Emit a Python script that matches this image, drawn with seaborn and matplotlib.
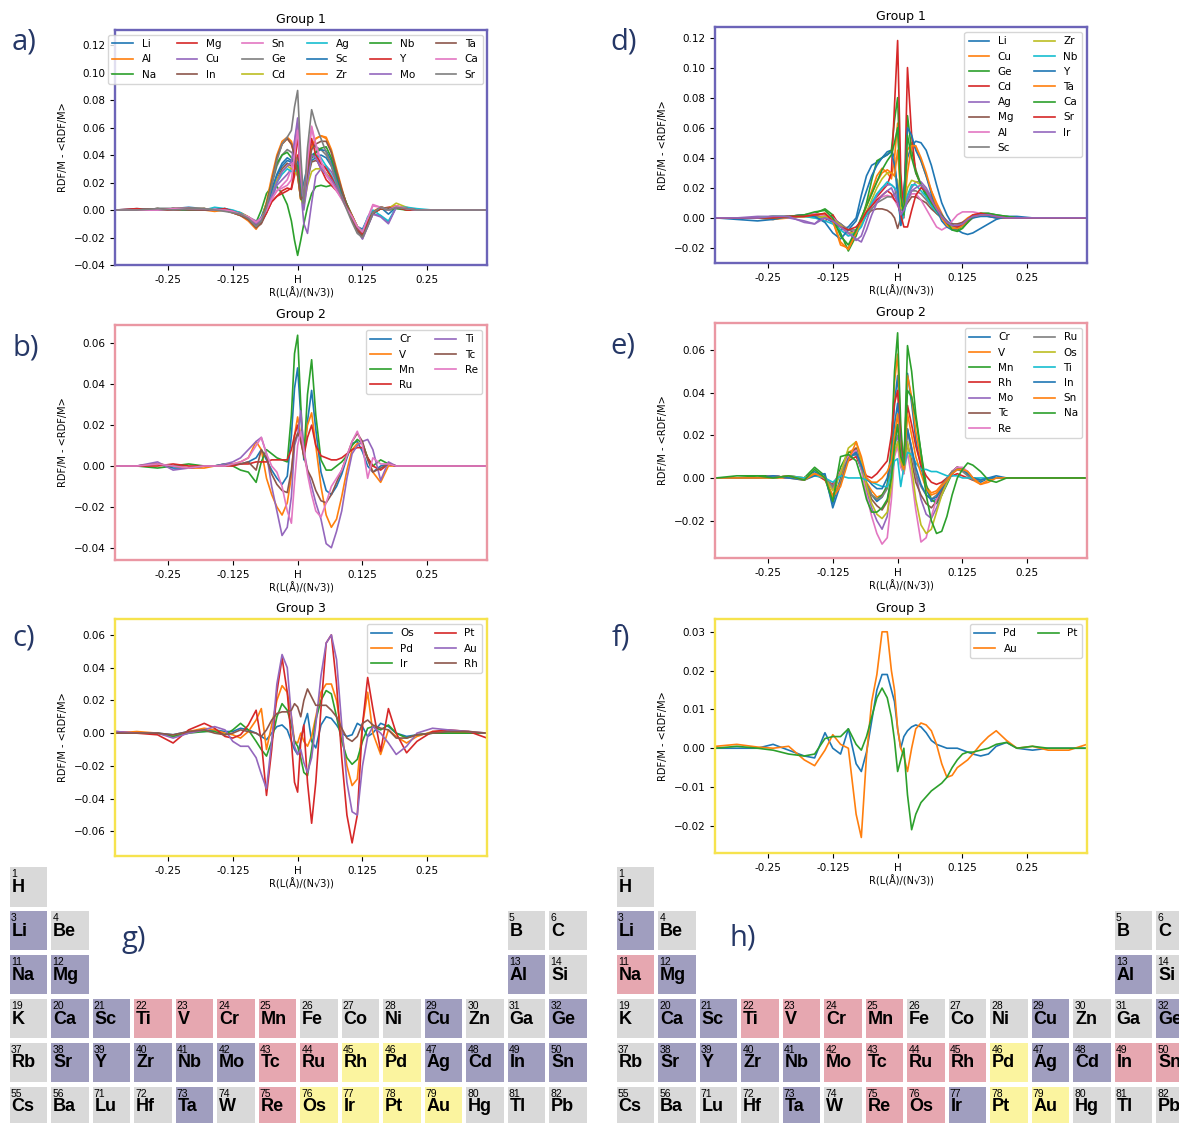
import matplotlib
matplotlib.use("Agg")
import matplotlib.pyplot as plt
from matplotlib.patches import Rectangle
import pandas as pd
import seaborn as sns

# sample positions along R(L(Å)/(N√3)), H sits at 0
r_pos = [-0.35, -0.31, -0.27, -0.24, -0.21, -0.18, -0.16, -0.14, -0.125, -0.11,
         -0.095, -0.08, -0.07, -0.06, -0.05, -0.04, -0.03, -0.02, -0.012, -0.006,
         0.0, 0.006, 0.012, 0.019, 0.027, 0.035, 0.045, 0.055, 0.065, 0.075,
         0.085, 0.095, 0.105, 0.115, 0.125, 0.135, 0.145, 0.16, 0.175, 0.19,
         0.21, 0.23, 0.26, 0.29, 0.33, 0.365]
x_ticks = [-0.25, -0.125, 0, 0.125, 0.25]
x_ticklabels = ["-0.25", "-0.125", "H", "0.125", "0.25"]

# RDF/M - <RDF/M>, in units of 1e-3
group1_a = {
    "Li": [0, 1, 0, 1, 2, 1, 0, 1, -1, -3, -7, -10, -5, 5, 15, 25, 32, 36, 35, 33,
           30, 10, 20, 32, 36, 38, 40, 38, 32, 22, 12, 2, -6, -12, -14, -6, -2, 2, -3, 2, 1, 0, 0, 0, 0, 0],
    "Al": [0, 0, 0, 1, 1, 1, 0, 0, -1, -3, -6, -12, -8, 4, 20, 38, 48, 52, 48, 40,
           25, 8, 12, 30, 45, 52, 54, 52, 42, 28, 14, 3, -6, -15, -18, -10, -1, 2, 1, 2, 0, 0, 0, 0, 0, 0],
    "Na": [0, 0, 1, 0, 0, 0, 1, 0, -1, -3, -6, -9, 0, 12, 17, 17, 12, 4, -8, -22,
           -33, -22, -10, 2, 12, 17, 18, 17, 18, 16, 12, 4, -4, -12, -17, -9, -2, 1, 0, 1, 0, 0, 0, 0, 0, 0],
    "Mg": [0, 1, 0, 0, 1, 0, 0, 1, -1, -2, -5, -10, -9, -2, 6, 10, 14, 16, 15, 25,
           40, 22, 8, 25, 40, 38, 30, 22, 18, 14, 10, 4, -4, -12, -18, -10, -2, 1, 2, 3, 1, 0, 0, 0, 0, 0],
    "Cu": [0, 0, 0, 1, 1, 0, 0, 0, -1, -2, -5, -8, -6, -1, 8, 18, 22, 26, 30, 45,
           60, 15, -10, -17, 5, 25, 30, 32, 28, 20, 12, 2, -6, -14, -21, -12, -3, -4, -9, 2, 1, 0, 0, 0, 0, 0],
    "In": [0, 0, 1, 1, 0, 1, 0, 0, -2, -4, -7, -13, -10, -2, 10, 22, 30, 34, 32, 35,
           38, 18, 8, 22, 35, 36, 34, 30, 24, 17, 10, 2, -7, -15, -19, -11, -3, 1, 0, 2, 1, 0, 0, 0, 0, 0],
    "Sn": [0, 0, 0, 1, 1, 0, 1, 0, -1, -3, -6, -9, -6, 0, 8, 14, 18, 22, 30, 50,
           63, 30, 5, 35, 60, 45, 32, 25, 20, 14, 8, 1, -6, -12, -16, -6, 4, 2, 0, 3, 1, 0, 0, 0, 0, 0],
    "Ge": [0, 0, 1, 0, 1, 1, 0, 0, -1, -3, -6, -11, -7, 3, 18, 32, 40, 44, 42, 40,
           35, 15, 10, 30, 48, 46, 44, 40, 34, 24, 14, 4, -6, -14, -19, -10, -2, 2, 1, 2, 1, 0, 0, 0, 0, 0],
    "Cd": [0, 0, 0, 1, 1, 1, 0, 0, -1, -2, -5, -9, -7, 1, 12, 22, 28, 32, 30, 28,
           25, 8, 4, 18, 28, 30, 30, 27, 22, 16, 10, 3, -5, -12, -16, -9, -2, 2, 1, 5, 2, 0, 0, 0, 0, 0],
    "Ag": [0, 0, 1, 1, 0, 0, 2, 1, 0, -2, -6, -10, -8, 0, 10, 20, 26, 30, 28, 28,
           30, 10, 6, 25, 38, 40, 38, 32, 25, 18, 10, 2, -6, -13, -16, -5, 0, -4, -8, 2, 2, 1, 0, 0, 0, 0],
    "Sc": [0, 0, 0, 1, 1, 0, 0, 1, -1, -3, -6, -10, -7, 2, 14, 26, 34, 38, 36, 35,
           35, 12, 8, 28, 40, 42, 44, 43, 36, 24, 12, 2, -7, -16, -20, -10, -2, 2, 1, 2, 1, 0, 0, 0, 0, 0],
    "Zr": [0, 0, 0, 1, 1, 0, -1, 0, -2, -4, -8, -14, -8, 6, 24, 40, 50, 53, 50, 42,
           28, 8, 10, 30, 46, 52, 54, 53, 44, 30, 16, 3, -7, -16, -19, -10, -2, 2, 1, 3, 1, 0, 0, 0, 0, 0],
    "Nb": [0, 0, 0, 1, 0, 1, 0, 0, -1, -3, -6, -12, -8, 4, 20, 34, 40, 42, 38, 35,
           32, 10, 4, 24, 38, 42, 45, 46, 38, 26, 14, 4, -6, -15, -19, -10, -2, 1, 1, 2, 1, 0, 0, 0, 0, 0],
    "Y": [0, 0, 1, 0, 1, 0, 0, 1, -1, -3, -6, -10, -8, -2, 6, 10, 12, 14, 16, 30,
          55, 25, 8, 30, 52, 40, 34, 30, 24, 16, 10, 3, -6, -14, -18, -9, -2, 1, 1, 2, 0, 0, 0, 0, 0, 0],
    "Mo": [0, 0, 0, 1, 1, 0, 0, 0, -1, -3, -6, -10, -7, 0, 10, 20, 28, 32, 35, 50,
           67, 25, 0, 20, 40, 38, 30, 26, 22, 16, 10, 2, -6, -15, -21, -12, -3, -5, -10, 2, 1, 0, 0, 0, 0, 0],
    "Ta": [0, 0, 1, 1, 0, 0, 0, 0, -2, -4, -7, -13, -9, 3, 20, 38, 48, 52, 48, 40,
           26, 8, 10, 28, 44, 48, 50, 50, 42, 28, 15, 3, -7, -15, -19, -11, -2, 2, 1, 2, 1, 0, 0, 0, 0, 0],
    "Ca": [0, 0, 0, 1, 1, 1, 0, 0, -1, -3, -5, -9, -6, 0, 8, 14, 16, 18, 22, 40,
           58, 28, 8, 35, 61, 48, 36, 26, 20, 14, 8, 1, -5, -12, -16, -6, 3, 2, 0, 3, 1, 0, 0, 0, 0, 0],
    "Sr": [0, 0, 1, 0, 1, 1, 0, -1, -2, -3, -6, -12, -8, 2, 18, 36, 48, 53, 58, 75,
           87, 40, 5, 45, 73, 62, 52, 42, 32, 20, 9, 0, -9, -17, -20, -12, -2, 2, 0, 2, 1, 0, 0, 0, 0, 0],
}

group2_b = {
    "Cr": [0, 0, 1, -1, -1, 0, 0, 1, 1, 1, 2, 4, 8, 3, -2, -6, -9, -5, 15, 38,
           48, 25, 3, 22, 37, 18, -3, -12, -14, -10, -4, 4, 11, 12, 7, 0, -3, 0, 1, 0, 0, 0, 0, 0, 0, 0],
    "V": [0, 0, 1, 0, -1, -1, 0, 0, 1, 2, 4, 12, 8, -6, -14, -20, -24, -18, -5, 15,
          24, 15, 8, 20, 26, 10, -10, -24, -30, -26, -15, -2, 8, 11, 11, 4, -3, -8, 0, 0, 0, 0, 0, 0, 0, 0],
    "Mn": [0, 0, -1, 0, 1, 0, 0, 1, 0, -2, -3, -8, 2, 8, 6, 4, 3, 2, 25, 55,
           64, 30, 4, 35, 52, 25, 3, -2, -2, 0, 2, 5, 10, 13, 11, 4, 0, 3, 1, 0, 0, 0, 0, 0, 0, 0],
    "Ru": [0, 0, 0, 1, 0, 0, 0, 0, 0, 1, 1, 2, 2, 2, 3, 3, 3, 3, 8, 15,
           20, 12, 5, 14, 20, 10, 5, 4, 3, 3, 4, 6, 8, 9, 9, 4, 0, -2, 1, 0, 0, 0, 0, 0, 0, 0],
    "Ti": [0, 0, 2, -2, -1, 0, 0, 1, 2, 4, 8, 12, 14, 6, -10, -22, -34, -30, -15, 10,
           15, 27, 8, -2, -10, -18, -26, -38, -40, -32, -22, -6, 6, 10, 12, 13, 8, -7, 2, 0, 0, 0, 0, 0, 0, 0],
    "Tc": [0, 0, 1, 0, -1, 0, 0, 0, 1, 1, 2, -2, 8, 4, -4, -9, -12, -13, -2, 12,
           16, 13, 5, -2, -6, -12, -17, -18, -14, -8, -2, 5, 12, 16, 12, 3, -3, -1, 1, 0, 0, 0, 0, 0, 0, 0],
    "Re": [0, 0, 1, 0, -1, 0, 0, 0, 1, 2, 4, 10, 14, 6, 0, -3, -10, -22, -28, -8,
           10, 17, 8, -4, -14, -22, -25, -18, -10, -6, -2, 5, 12, 17, 10, -6, 4, 1, 1, 0, 0, 0, 0, 0, 0, 0],
}

group3_c = {
    "Os": [0, 0, 0, -1, 1, 1, 2, 1, 1, 3, 2, 0, -2, -4, 0, 4, 5, 2, -5, -10,
           -13, -5, 5, 12, -5, -9, 5, 10, 9, 5, 0, -2, -1, 6, 4, -2, 0, 6, 4, 0, -2, -1, 0, 0, 0, 0],
    "Pd": [0, 1, 0, -2, 1, 3, 2, 0, -1, -3, 1, 8, 15, -10, 5, 20, 29, 25, 10, -5,
           -6, 0, -5, -8, -2, 10, 25, 30, 30, 20, 0, -20, -32, -28, 5, 25, 0, -13, 2, -2, -6, -2, 1, 1, 0, 0],
    "Ir": [0, 0, 0, -2, 0, 1, 1, -1, 2, 6, 2, -5, -10, -14, -5, 10, 18, 14, 5, -5,
           -8, -15, -24, -26, -10, 8, 20, 26, 24, 10, -5, -15, -19, -16, -5, 3, 4, 2, 5, 0, -3, -1, 0, 0, 0, 0],
    "Pt": [1, 0, -1, -6, 2, 6, 3, -2, -3, -1, 5, 14, -5, -38, -10, 25, 46, 25, -5, -30,
           -36, -5, 5, -30, -55, -30, 15, 55, 60, 30, -15, -50, -67, -50, 5, 34, 15, -11, 15, 0, -12, -5, 1, 2, 1, -3],
    "Au": [1, 0, 0, -3, 0, 2, 4, 2, -5, -8, -8, -15, -25, -34, -5, 30, 48, 40, 10, -8,
           -13, -10, -18, -24, -15, 5, 35, 55, 60, 45, 5, -30, -48, -50, -20, -2, 4, 0, -6, -13, -8, 0, 3, 2, 1, 0],
    "Rh": [0, 0, 0, -1, 1, 2, 0, -1, 0, 2, 1, 0, -2, 2, 8, 12, 13, 13, 14, 18,
           16, 10, 20, 27, 22, 17, 17, 17, 14, 10, 3, -3, -5, -2, 6, 8, 5, 3, 2, -3, -3, -1, 0, 1, 1, 0],
}

group1_d = {
    "Li": [0, -1, -2, -1, 1, 2, 2, 0, -3, -8, -6, 0, 15, 28, 35, 37, 40, 44, 45, 40,
           12, 2, 20, 40, 48, 51, 50, 45, 35, 22, 10, 2, -4, -8, -10, -11, -10, -7, -4, -1, 1, 1, 0, 0, 0, 0],
    "Cu": [0, 0, 0, -1, 0, 1, 1, 3, -2, -18, -20, -8, 0, 8, 18, 28, 33, 30, 26, 40,
           63, 20, 5, 45, 50, 46, 38, 28, 18, 10, 3, -4, -6, -5, -3, 0, 2, 3, 2, 1, 0, 0, 0, 0, 0, 0],
    "Ge": [0, 0, 0, 0, 1, 2, 3, 6, 2, -10, -22, -12, -2, 10, 25, 38, 40, 42, 45, 65,
           80, 20, 5, 68, 45, 32, 22, 14, 8, 3, 0, -4, -7, -8, -6, -3, 1, 3, 3, 2, 1, 0, 0, 0, 0, 0],
    "Cd": [0, 0, 0, 0, 1, 1, 2, -2, 2, -6, -10, -10, -4, 4, 10, 14, 18, 22, 30, 75,
           118, 30, 0, 100, 55, 30, 22, 18, 12, 8, 2, -3, -5, -6, -5, -2, 1, 2, 2, 1, 0, 0, 0, 0, 0, 0],
    "Ag": [0, 0, 1, 1, 0, -2, -4, 2, 0, -4, -10, -15, -12, -2, 8, 15, 20, 22, 22, 20,
           10, 2, 8, 15, 20, 24, 24, 20, 14, 8, 2, -2, -5, -6, -5, -2, 1, 2, 2, 1, 0, 0, 0, 0, 0, 0],
    "Mg": [0, 0, 0, 1, 1, 1, 2, 0, -1, -4, -8, -10, -4, 2, 5, 6, 6, 5, 3, 0,
           -7, 0, 6, 10, 14, 14, 12, 10, 6, 3, 0, -3, -4, -4, -3, -1, 1, 2, 1, 0, 0, 0, 0, 0, 0, 0],
    "Al": [0, 0, 0, 1, 1, 2, 3, 1, 0, -5, -12, -8, -2, 4, 8, 12, 14, 15, 14, 12,
           8, 4, 6, 12, 16, 16, 12, 6, 0, -6, -8, -6, -2, 2, 4, 4, 4, 3, 2, 1, 0, 0, 0, 0, 0, 0],
    "Sc": [0, 0, 0, 0, 1, 1, 1, 0, -1, -4, -8, -8, -3, 2, 6, 10, 12, 14, 14, 16,
           18, 6, 4, 12, 18, 18, 16, 12, 8, 4, 1, -2, -5, -6, -5, -3, 0, 2, 2, 1, 0, 0, 0, 0, 0, 0],
    "Zr": [0, 0, 0, 1, 1, 1, 0, 1, -1, -5, -10, -10, -4, 4, 12, 20, 26, 30, 30, 28,
           25, 6, 8, 20, 25, 24, 22, 18, 12, 6, 1, -3, -6, -7, -6, -3, 1, 3, 2, 1, 0, 0, 0, 0, 0, 0],
    "Nb": [0, 0, 0, 1, 1, 1, 0, -2, -4, -8, -12, -10, -6, 2, 10, 16, 20, 24, 22, 20,
           18, -5, 2, 15, 22, 22, 18, 14, 8, 4, 0, -3, -5, -6, -5, -2, 1, 2, 1, 1, 0, 0, 0, 0, 0, 0],
    "Y": [0, 0, 0, -1, 1, 2, 1, -3, -10, -14, -8, -2, 8, 18, 28, 35, 40, 42, 44, 35,
          20, -5, 10, 60, 55, 45, 38, 28, 16, 6, -2, -6, -8, -7, -5, -2, 0, 1, 1, 0, 0, 0, 0, 0, 0, 0],
    "Ta": [0, 0, 0, 0, 1, 1, 2, 3, -2, -16, -21, -10, -2, 8, 16, 24, 30, 32, 30, 28,
           45, 15, 5, 30, 48, 48, 40, 30, 18, 8, 0, -5, -7, -7, -5, -2, 1, 2, 2, 1, 0, 0, 0, 0, 0, 0],
    "Ca": [0, 0, 0, 0, 1, 2, 4, 5, 0, -12, -18, -8, 0, 8, 16, 24, 32, 38, 42, 50,
           60, 15, 2, 55, 40, 30, 22, 16, 10, 5, 2, -3, -8, -9, -7, -3, 1, 3, 3, 2, 1, 0, 0, 0, 0, 0],
    "Sr": [0, 0, 0, 0, 1, 1, 2, 3, -2, -6, -8, -6, -2, 4, 8, 12, 15, 18, 16, 12,
           10, 2, -6, -6, 5, 15, 20, 18, 12, 6, 1, -3, -5, -6, -4, -1, 2, 3, 2, 1, 0, 0, 0, 0, 0, 0],
    "Ir": [0, 0, 0, 1, 1, -3, -4, 0, -2, -6, -10, -14, -16, -8, 2, 10, 15, 18, 20, 15,
           10, 2, 5, 12, 18, 20, 22, 18, 12, 6, 1, -3, -5, -5, -4, -1, 1, 2, 2, 1, 0, 0, 0, 0, 0, 0],
}

group2_e = {
    "Cr": [0, 0, 0, 1, 0, 0, 3, 0, -12, 0, 10, 11, 4, -3, -8, -11, -9, -3, 10, 35,
           48, 15, 5, 49, 35, 18, 5, -5, -11, -10, -6, -1, 3, 5, 4, 2, 0, -2, 0, 1, 0, 0, 0, 0, 0, 0],
    "V": [0, 0, 0, 0, 0, -1, 2, -1, -8, -2, 12, 14, 6, -2, -6, -9, -8, -4, 12, 45,
          58, 20, 6, 48, 38, 22, 8, -4, -7, -6, -3, 0, 3, 5, 4, 2, -1, -3, -1, 0, 0, 0, 0, 0, 0, 0],
    "Mn": [0, 0, 1, 1, 0, 0, 5, 1, -10, 5, 12, 12, 5, -3, -8, -10, -8, -4, 15, 50,
           68, 25, 4, 62, 50, 30, 12, -3, -10, -12, -8, -3, 2, 5, 4, 3, 0, -1, 0, 0, 0, 0, 0, 0, 0, 0],
    "Rh": [0, 0, 0, 0, 1, 0, 2, -1, -3, 3, 8, 10, 5, 1, 0, 2, 5, 8, 20, 35,
           41, 15, 5, 34, 25, 15, 6, 1, -2, -3, -2, 0, 1, 2, 1, 0, -1, -1, 0, 0, 0, 0, 0, 0, 0, 0],
    "Mo": [0, 0, 0, 1, 0, 0, 2, 0, -5, 2, 10, 13, 5, -6, -14, -20, -24, -18, -2, 15,
           20, 8, 3, 23, 14, 2, -10, -17, -19, -14, -8, -2, 3, 5, 4, 2, 0, -1, 0, 0, 0, 0, 0, 0, 0, 0],
    "Tc": [0, 0, 0, 1, 0, 0, 2, 0, -4, 2, 10, 14, 6, -4, -10, -13, -15, -11, 0, 12,
           16, 6, 2, 16, 8, -2, -8, -12, -14, -11, -6, -1, 3, 5, 4, 2, 0, -1, 0, 0, 0, 0, 0, 0, 0, 0],
    "Re": [0, 0, 0, 1, 0, 0, 2, 0, -4, 3, 10, 13, 4, -8, -18, -26, -31, -28, -10, 10,
           15, 5, 2, 12, 0, -15, -30, -28, -18, -10, -4, -1, 3, 5, 5, 3, 0, -1, 0, 0, 0, 0, 0, 0, 0, 0],
    "Ru": [0, 0, 0, 1, 0, 0, 2, 0, -4, 2, 9, 12, 5, -3, -8, -10, -9, -5, 5, 20,
           25, 10, 4, 22, 12, 2, -4, -8, -10, -8, -4, 0, 3, 4, 3, 1, -1, -1, 0, 0, 0, 0, 0, 0, 0, 0],
    "Os": [0, 0, 0, 0, 1, 0, 2, 0, -6, 2, 14, 17, 8, -4, -12, -17, -19, -16, -4, 12,
           17, 8, 3, 17, 5, -10, -22, -26, -24, -16, -8, -2, 2, 4, 4, 2, 0, -1, 0, 0, 0, 0, 0, 0, 0, 0],
    "Ti": [0, 0, 0, 0, 1, 0, 1, 0, -2, 1, 0, 0, 0, -1, -2, -3, -4, -4, 2, 8,
           9, -4, 5, 12, 11, 7, 4, 4, 3, 3, 2, 1, 1, 1, 0, 0, 0, 0, 0, 0, 0, 0, 0, 0, 0, 0],
    "In": [0, 0, 0, 1, 0, -1, 1, 2, -14, -3, 9, 12, 6, 0, -3, -5, -5, 0, 10, 25,
           35, 12, 5, 23, 14, 5, -3, -8, -10, -9, -5, -1, 2, 4, 4, 2, 0, -1, 0, 0, 0, 0, 0, 0, 0, 0],
    "Sn": [0, 0, 0, 0, 1, -1, 2, 0, -9, -4, 8, 17, 10, 0, -2, -2, 0, 3, 8, 20,
           30, 10, 4, 30, 20, 10, 2, -5, -8, -7, -4, -1, 2, 4, 4, 3, 0, -3, -2, 0, 0, 0, 0, 0, 0, 0],
    "Na": [0, 1, 1, 0, 1, -1, 4, 0, -11, 10, 11, 8, 0, -10, -16, -16, -14, -10, 0, 15,
           25, 10, 6, 41, 38, 28, 12, -8, -20, -26, -25, -18, -8, 0, 4, 7, 6, 3, -1, -2, 0, 0, 0, 0, 0, 0],
}

group3_f = {
    "Pd": [0, 0, 0, 1, -0.5, -2, -2.5, 4, 0, -1.5, 5, -4, -6, -1, 7, 15, 19, 19, 15, 12,
           5, 0, 3, 4.5, 5.5, 6, 5.5, 4, 2, 1, 0.5, 0, 0, 0, -0.5, -1, -1.5, -2, -1.5, 0.5,
           1.5, 0, -0.5, 0, 0, 0],
    "Au": [0.5, 1, 0.3, 0, 0.5, -3, -4.5, -0.5, 3.5, 1, 0, -17, -23, -2, 12, 19, 30, 30, 20, 15,
           5, 0, -2, -6, 0, 5, 6.5, 6, 4.5, 1, -4, -7.5, -7, -5, -4, -3, -1.5, 1, 3, 4.5,
           2, 0, 0.5, -0.5, -0.5, 1],
    "Pt": [0, 0.5, 0, -0.5, -1.5, -2, -1.5, 2.5, 3, 3, 5, 1, -0.5, 3, 8, 13, 15.5, 13, 8, 2,
           -6, -3, 0, -12, -21, -17, -14, -12.5, -11, -10, -9, -7.5, -5, -3, -1.5, -1, -1, -0.5, 0, 1,
           1.5, 0, 0.5, 0, 0, 0],
}

# truncated periodic table shown under each column of plots
pt_grid = [
    ["H"] + [""] * 13,
    ["Li", "Be"] + [""] * 10 + ["B", "C"],
    ["Na", "Mg"] + [""] * 10 + ["Al", "Si"],
    ["K", "Ca", "Sc", "Ti", "V", "Cr", "Mn", "Fe", "Co", "Ni", "Cu", "Zn", "Ga", "Ge"],
    ["Rb", "Sr", "Y", "Zr", "Nb", "Mo", "Tc", "Ru", "Rh", "Pd", "Ag", "Cd", "In", "Sn"],
    ["Cs", "Ba", "Lu", "Hf", "Ta", "W", "Re", "Os", "Ir", "Pt", "Au", "Hg", "Tl", "Pb"],
]
pt_numbers = {
    "H": 1, "Li": 3, "Be": 4, "B": 5, "C": 6, "Na": 11, "Mg": 12, "Al": 13, "Si": 14,
    "K": 19, "Ca": 20, "Sc": 21, "Ti": 22, "V": 23, "Cr": 24, "Mn": 25, "Fe": 26, "Co": 27,
    "Ni": 28, "Cu": 29, "Zn": 30, "Ga": 31, "Ge": 32,
    "Rb": 37, "Sr": 38, "Y": 39, "Zr": 40, "Nb": 41, "Mo": 42, "Tc": 43, "Ru": 44, "Rh": 45,
    "Pd": 46, "Ag": 47, "Cd": 48, "In": 49, "Sn": 50,
    "Cs": 55, "Ba": 56, "Lu": 71, "Hf": 72, "Ta": 73, "W": 74, "Re": 75, "Os": 76, "Ir": 77,
    "Pt": 78, "Au": 79, "Hg": 80, "Tl": 81, "Pb": 82,
}

frame_colors = ["#6c64b8", "#ea97a3", "#f6e34e"]
cell_colors = ["#a09ebf", "#e6a7b0", "#fbf49f"]
cell_grey = "#d9d9d9"
label_color = "#253766"

W, H = 1179, 1123
fig = plt.figure(figsize=(W / 100, H / 100), dpi=100)


def px_axes(left, top, right, bottom):
    return fig.add_axes([left / W, 1 - bottom / H, (right - left) / W, (bottom - top) / H])


def draw_panel(ax, curves, title, frame, yticks, ylim, ncol, legend_kw):
    rows = []
    for name, vals in curves.items():
        for r, v in zip(r_pos, vals):
            rows.append((name, r, v / 1000))
    df = pd.DataFrame(rows, columns=["element", "r", "value"])
    base = sns.color_palette("tab10")
    pal = [base[i % 10] for i in range(len(curves))]
    sns.lineplot(data=df, x="r", y="value", hue="element", hue_order=list(curves),
                 palette=pal, estimator=None, sort=False, linewidth=1.2, ax=ax, legend=False)
    ax.set_xlim(-0.352, 0.365)
    ax.set_ylim(*ylim)
    ax.set_xticks(x_ticks)
    ax.set_xticklabels(x_ticklabels)
    ax.set_yticks(yticks)
    ax.tick_params(labelsize=7.5, length=3.5, width=0.8)
    ax.set_title(title, fontsize=9, pad=5)
    ax.set_xlabel("R(L(Å)/(N√3))", fontsize=7, labelpad=2)
    ax.set_ylabel("RDF/M - <RDF/M>", fontsize=7)
    for sp in ax.spines.values():
        sp.set_edgecolor(frame)
        sp.set_linewidth(1.7)
    ax.legend(ax.get_lines(), list(curves), ncol=ncol, fontsize=7.5, **legend_kw)


yt_a = [-0.04, -0.02, 0.0, 0.02, 0.04, 0.06, 0.08, 0.10, 0.12]
yt_b = [-0.04, -0.02, 0.0, 0.02, 0.04, 0.06]
yt_c = [-0.06, -0.04, -0.02, 0.0, 0.02, 0.04, 0.06]
yt_d = [-0.02, 0.0, 0.02, 0.04, 0.06, 0.08, 0.10, 0.12]
yt_e = [-0.02, 0.0, 0.02, 0.04, 0.06]
yt_f = [-0.02, -0.01, 0.0, 0.01, 0.02, 0.03]

ax_a = px_axes(115, 30, 487, 265)
draw_panel(ax_a, group1_a, "Group 1", frame_colors[0], yt_a, (-0.04, 0.131), 6,
           dict(loc="upper left", bbox_to_anchor=(-0.018, 0.979), borderaxespad=0,
                columnspacing=2.0))
ax_b = px_axes(115, 325, 487, 560)
draw_panel(ax_b, group2_b, "Group 2", frame_colors[1], yt_b, (-0.046, 0.069), 2,
           dict(loc="upper right"))
ax_c = px_axes(115, 619, 487, 856)
draw_panel(ax_c, group3_c, "Group 3", frame_colors[2], yt_c, (-0.075, 0.0697), 2,
           dict(loc="upper right"))
ax_d = px_axes(715, 27, 1087, 263)
draw_panel(ax_d, group1_d, "Group 1", frame_colors[0], yt_d, (-0.03, 0.127), 2,
           dict(loc="upper right"))
ax_e = px_axes(715, 323, 1087, 558)
draw_panel(ax_e, group2_e, "Group 2", frame_colors[1], yt_e, (-0.0375, 0.0726), 2,
           dict(loc="upper right"))
ax_f = px_axes(715, 619, 1087, 853)
draw_panel(ax_f, group3_f, "Group 3", frame_colors[2], yt_f, (-0.027, 0.0333), 2,
           dict(loc="upper right"))


def draw_table(ax, groups):
    ax.set_xlim(0, 14)
    ax.set_ylim(6, 0)
    ax.axis("off")
    for r, row in enumerate(pt_grid):
        for c, sym in enumerate(row):
            if not sym:
                continue
            color = cell_grey
            for names, col in zip(groups, cell_colors):
                if sym in names:
                    color = col
            ax.add_patch(Rectangle((c, r), 0.904, 0.9, facecolor=color, edgecolor="none"))
            ax.text(c + 0.03, r + 0.235, str(pt_numbers[sym]), fontsize=7.5,
                    family=["Liberation Sans", "DejaVu Sans"], va="baseline", ha="left")
            ax.text(c + 0.05, r + 0.565, sym, fontsize=13, fontweight="bold",
                    family=["Liberation Sans", "DejaVu Sans"], va="baseline", ha="left")


ax_g = px_axes(9.6, 867, 9.6 + 14 * 41.5, 867 + 6 * 43.9)
draw_table(ax_g, [group1_a, group2_b, group3_c])
ax_h = px_axes(616.6, 867, 616.6 + 14 * 41.5, 867 + 6 * 43.9)
draw_table(ax_h, [group1_d, group2_e, group3_f])

panel_labels = ["a)", "b)", "c)", "d)", "e)", "f)", "g)", "h)"]
label_px = [(12, 50), (12, 356), (12, 645), (610, 50), (610, 353), (612, 645), (122, 947), (730, 946)]
for lab, (lx, ly) in zip(panel_labels, label_px):
    fig.text(lx / W, 1 - ly / H, lab, fontsize=21, color=label_color,
             family=["Open Sans", "DejaVu Sans"], va="baseline", ha="left")

fig.savefig("out.png", dpi=100)
